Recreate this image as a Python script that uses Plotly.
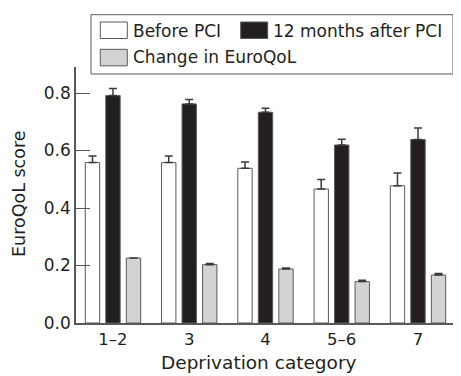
import plotly.graph_objects as go

categories = ["1\u20132", "3", "4", "5\u20136", "7"]
series_names = ["Before PCI", "12 months after PCI", "Change in EuroQoL"]
before_pci = [0.558, 0.558, 0.538, 0.466, 0.477]
before_err = [0.023, 0.023, 0.022, 0.033, 0.045]
after_pci = [0.791, 0.762, 0.733, 0.619, 0.638]
after_err = [0.025, 0.015, 0.014, 0.020, 0.040]
change = [0.226, 0.203, 0.188, 0.144, 0.167]
change_err = [0.0, 0.004, 0.003, 0.005, 0.005]
y_ticks = [0.0, 0.2, 0.4, 0.6, 0.8]

OFF = 8  # page body margin in the browser
W, H = 461 - OFF, 376 - OFF
L, R, T, B = 76 - OFF, 0, 67 - OFF, 53
PW, PH = W - L - R, H - T - B
TXT = "#231f20"
EDGE = "#58595b"
FONT = "DejaVu Sans"

fills = ["#ffffff", "#231f20", "#d1d3d4"]
vals = [before_pci, after_pci, change]
errs = [before_err, after_err, change_err]

fig = go.Figure()
for name, v, e, c in zip(series_names, vals, errs, fills):
    fig.add_trace(go.Bar(
        x=list(range(len(categories))), y=v, name=name,
        marker=dict(color=c, line=dict(color=EDGE, width=1)),
        error_y=dict(type="data", array=e, arrayminus=[0] * len(e), symmetric=False,
                     color="#3a3a3a", thickness=1.5, width=4),
        showlegend=False,
    ))

def px(x):
    return (x - OFF - L) / PW

def py(y):
    return (T + PH - (y - OFF)) / PH

shapes = [dict(type="rect", xref="paper", yref="paper",
               x0=px(91), x1=px(453), y0=py(74), y1=py(14.7),
               line=dict(color=EDGE, width=1), fillcolor="white", layer="above")]
sw = [(100.3, 22, 30.5), (240.7, 22, 30.5), (100.3, 49.3, 57.3)]
tx = [132.7, 273.3, 132.7]
annotations = []
for (sx, sy, cy), t, c, name in zip(sw, tx, fills, series_names):
    shapes.append(dict(type="rect", xref="paper", yref="paper",
                       x0=px(sx), x1=px(sx + 27), y0=py(sy + 16.5), y1=py(sy),
                       line=dict(color=EDGE, width=1), fillcolor=c, layer="above"))
    annotations.append(dict(xref="paper", yref="paper", x=px(t), y=py(cy),
                            text=name, showarrow=False, xanchor="left", yanchor="middle",
                            xshift=-2, font=dict(family=FONT, size=17, color=TXT)))

# axis titles
annotations.append(dict(xref="paper", yref="paper", x=px(258.5), y=py(362),
                        text="Deprivation category", showarrow=False,
                        xanchor="center", yanchor="middle",
                        font=dict(family=FONT, size=18.5, color=TXT)))
annotations.append(dict(xref="paper", yref="paper", x=px(19), y=py(194),
                        text="EuroQoL score", showarrow=False, textangle=-90,
                        xanchor="center", yanchor="middle",
                        font=dict(family=FONT, size=17.5, color=TXT)))

fig.update_layout(
    width=W, height=H, margin=dict(l=L, r=R, t=T, b=B, autoexpand=False),
    paper_bgcolor="white", plot_bgcolor="white",
    barmode="group", bargap=0.193, bargroupgap=0.30,
    font=dict(family=FONT, color=TXT),
    shapes=shapes, annotations=annotations,
    xaxis=dict(range=[-0.485, 4.564], tickmode="array",
               tickvals=list(range(len(categories))), ticktext=categories,
               showline=True, linecolor=EDGE, linewidth=1.5, ticks="",
               showgrid=False, zeroline=False, automargin=False,
               tickfont=dict(family=FONT, size=16.5, color=TXT)),
    yaxis=dict(range=[0, PH / 287.5], tickmode="array", tickvals=y_ticks,
               tickformat=".1f", showline=True, linecolor=EDGE, linewidth=1.5,
               ticks="inside", ticklen=14, tickwidth=1, tickcolor=EDGE,
               showgrid=False, zeroline=False, automargin=False,
               tickfont=dict(family=FONT, size=17, color=TXT)),
)

fig.write_html("out.html")
